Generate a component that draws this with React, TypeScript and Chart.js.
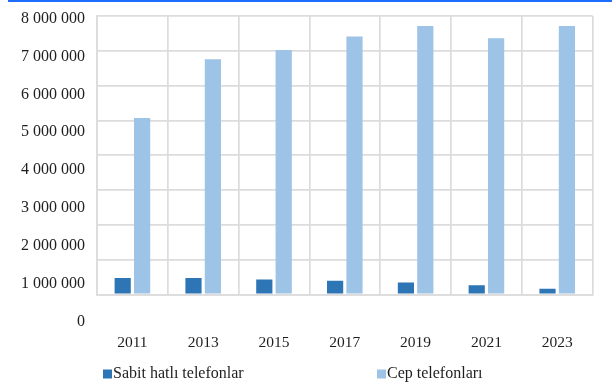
import { useEffect, useRef } from "react";
import { Chart, registerables } from "chart.js";

Chart.register(...registerables);

// Telephone subscriptions by year
const years = ["2011", "2013", "2015", "2017", "2019", "2021", "2023"];
const fixedLines = [470000, 470000, 430000, 390000, 340000, 260000, 160000];
const mobilePhones = [5070000, 6760000, 7020000, 7410000, 7710000, 7360000, 7710000];
const seriesNames = ["Sabit hatlı telefonlar", "Cep telefonları"];
const axisLabelValues = [0, 1000000, 2000000, 3000000, 4000000, 5000000, 6000000, 7000000, 8000000];

const FONT = "'Liberation Serif', 'Times New Roman', serif";
const TEXT = "#1e1e1e";
const GRID = "#dcdcdc";

const fmt = (v: number) => String(Math.round(v)).replace(/\B(?=(\d{3})+(?!\d))/g, " ");

// Legend drawn below the axis: a small square right before each series name
const bottomLegend = {
  id: "bottomLegend",
  afterDraw(chart: any, _args: any, opts: any) {
    const ctx = chart.ctx;
    ctx.save();
    ctx.font = `${opts.size}px ${FONT}`;
    ctx.textBaseline = "middle";
    ctx.textAlign = "left";
    chart.data.datasets.forEach((ds: any, i: number) => {
      const x = opts.itemX[i];
      const y = opts.y;
      ctx.fillStyle = ds.backgroundColor;
      ctx.fillRect(x, y - 4.5, 9, 9);
      ctx.fillStyle = TEXT;
      ctx.fillText(ds.label, x + 10, y);
    });
    ctx.restore();
  },
};

export default function App() {
  const ref = useRef<HTMLCanvasElement>(null);

  useEffect(() => {
    if (!ref.current) return;
    const chart = new Chart(ref.current, {
      type: "bar",
      data: {
        labels: years,
        datasets: [
          {
            label: seriesNames[0],
            data: fixedLines,
            backgroundColor: "#2E75B6",
            borderWidth: 0,
            yAxisID: "y",
          },
          {
            label: seriesNames[1],
            data: mobilePhones,
            backgroundColor: "#9DC3E6",
            borderWidth: 0,
            yAxisID: "y",
          },
        ],
      },
      options: {
        responsive: false,
        animation: false,
        events: [],
        categoryPercentage: 0.548,
        barPercentage: 0.835,
        layout: { padding: { left: 15, right: 4, top: 16, bottom: -2 } },
        plugins: {
          legend: { display: false },
          tooltip: { enabled: false },
          bottomLegend: { itemX: [103, 377], y: 374, size: 16 },
        } as any,
        scales: {
          x: {
            grid: { color: GRID, lineWidth: 1.7, drawTicks: false, offset: true },
            border: { color: GRID, width: 1.7 },
            ticks: { color: TEXT, padding: 39, font: { family: FONT, size: 15.5 } },
          },
          y: {
            position: "left",
            weight: 0,
            min: 0,
            max: 8000000,
            ticks: { display: false, stepSize: 1000000 },
            grid: { color: GRID, lineWidth: 1.7, drawTicks: true, tickLength: 6, tickColor: "rgba(0,0,0,0)" },
            border: { color: GRID, width: 1.7 },
          },
          // label column for the value axis
          yLabels: {
            position: "left",
            weight: 1,
            min: 712400,
            max: 8074000,
            grid: { display: false, drawTicks: false },
            border: { display: false },
            afterBuildTicks: (scale: any) => {
              scale.ticks = axisLabelValues.map((value) => ({ value }));
            },
            ticks: {
              autoSkip: false,
              color: TEXT,
              padding: 6,
              font: { family: FONT, size: 16 },
              callback: (v: any) => fmt(Number(v)),
            },
          },
        },
      },
      plugins: [bottomLegend],
    });
    return () => chart.destroy();
  }, []);

  return (
    <div style={{ position: "absolute", left: 0, top: 0, width: 612, height: 389, background: "#fff" }}>
      <div style={{ position: "absolute", left: 8, top: 0, width: 604, height: 2, background: "#1f6dff" }} />
      <canvas ref={ref} width={612} height={389} style={{ display: "block" }} />
    </div>
  );
}
